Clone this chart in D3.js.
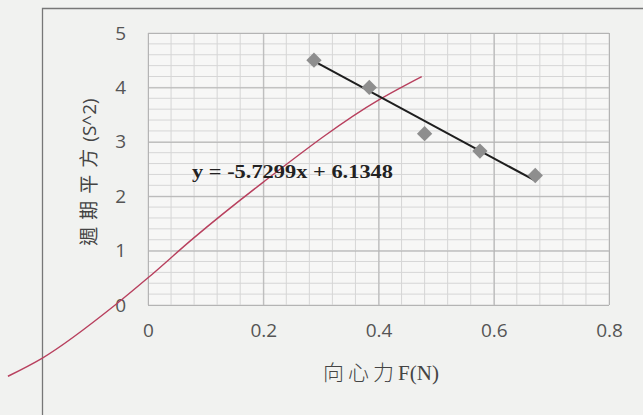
<!DOCTYPE html>
<html>
<head>
<meta charset="utf-8">
<script src="https://cdn.jsdelivr.net/npm/d3@7"></script>
<style>
  body { margin: 0; background: #f1f2f0; }
  svg { display: block; }
</style>
</head>
<body>
<div id="chart"></div>
<script>
// measured points (force F vs period squared)
var forceN = [0.288, 0.384, 0.480, 0.576, 0.672];
var periodSq = [4.50, 4.00, 3.15, 2.83, 2.38];
// linear trendline shown on the chart
var slope = -5.7299;
var intercept = 6.1348;
// red line drawn across the chart
var redX = [-0.243, -0.184, -0.057, 0, 0.078, 0.199, 0.402, 0.475];
var redY = [-1.31, -0.98, 0.0, 0.5, 1.22, 2.25, 3.78, 4.20];
var xTicks = [0, 0.2, 0.4, 0.6, 0.8];
var yTicks = [0, 1, 2, 3, 4, 5];

var width = 643, height = 415;
var svg = d3.select('#chart').append('svg').attr('width', width).attr('height', height);

// chart border (left + top)
svg.append('path')
  .attr('d', 'M42.5,' + height + 'V8.5H' + width)
  .attr('fill', 'none').attr('stroke', '#777').attr('stroke-width', 1.3);

var x = d3.scaleLinear().domain([0, 0.8]).range([148, 609]);
var y = d3.scaleLinear().domain([0, 5]).range([305, 33]);

svg.append('rect')
  .attr('x', x(0)).attr('y', y(5))
  .attr('width', x(0.8) - x(0)).attr('height', y(0) - y(5))
  .attr('fill', '#f7f7f6');

// minor grid
var grid = svg.append('g');
grid.selectAll('.vminor')
  .data(d3.range(0, 21).map(function(i) { return i * 0.04; }))
  .enter().append('line')
  .attr('x1', function(d) { return x(d); }).attr('x2', function(d) { return x(d); })
  .attr('y1', y(0)).attr('y2', y(5))
  .attr('stroke', '#d6d6d6').attr('stroke-width', 1);
grid.selectAll('.hminor')
  .data(d3.range(0, 26).map(function(i) { return i * 0.2; }))
  .enter().append('line')
  .attr('y1', function(d) { return y(d); }).attr('y2', function(d) { return y(d); })
  .attr('x1', x(0)).attr('x2', x(0.8))
  .attr('stroke', '#d6d6d6').attr('stroke-width', 1);

// major grid via axes
svg.append('g')
  .attr('transform', 'translate(0,' + y(0) + ')')
  .call(d3.axisBottom(x).tickValues(xTicks).tickSize(-(y(0) - y(5))).tickPadding(19).tickFormat(function(d) { return d === 0 ? '0' : d3.format('.1f')(d); }))
  .call(function(g) {
    g.select('.domain').remove();
    g.selectAll('line').attr('stroke', '#b4b4b4');
    g.selectAll('text').attr('font-family', 'Open Sans, sans-serif').attr('font-size', 19).attr('fill', '#555').attr('dy', '0.71em');
  });

svg.append('g')
  .attr('transform', 'translate(' + x(0) + ',0)')
  .call(d3.axisLeft(y).tickValues(yTicks).tickSize(-(x(0.8) - x(0))).tickPadding(22).tickFormat(d3.format('d')))
  .call(function(g) {
    g.select('.domain').remove();
    g.selectAll('line').attr('stroke', '#b4b4b4');
    g.selectAll('text').attr('font-family', 'Open Sans, sans-serif').attr('font-size', 19).attr('fill', '#555');
  });

// red line
var redLine = d3.line()
  .x(function(d) { return x(d[0]); })
  .y(function(d) { return y(d[1]); })
  .curve(d3.curveMonotoneX);
svg.append('path')
  .datum(redX.map(function(v, i) { return [v, redY[i]]; }))
  .attr('d', redLine)
  .attr('fill', 'none').attr('stroke', '#b8405e').attr('stroke-width', 1.4);

// trendline
var x0 = d3.min(forceN), x1 = d3.max(forceN);
svg.append('line')
  .attr('x1', x(x0)).attr('y1', y(slope * x0 + intercept))
  .attr('x2', x(x1)).attr('y2', y(slope * x1 + intercept))
  .attr('stroke', '#1e1e1e').attr('stroke-width', 2);

// diamonds
svg.selectAll('.pt')
  .data(forceN)
  .enter().append('path')
  .attr('d', d3.symbol().type(d3.symbolDiamond2).size(150))
  .attr('transform', function(d, i) { return 'translate(' + x(d) + ',' + y(periodSq[i]) + ')'; })
  .attr('fill', '#8e8e8e');

// equation
svg.append('text')
  .attr('x', 192).attr('y', 178)
  .attr('font-family', 'Liberation Serif, serif').attr('font-weight', 'bold').attr('font-size', 18)
  .attr('textLength', 201).attr('lengthAdjust', 'spacingAndGlyphs')
  .attr('fill', '#222')
  .text('y = -5.7299x + 6.1348');

// axis titles
var yt = svg.append('text')
  .attr('transform', 'translate(96,' + 172 + ') rotate(-90)')
  .attr('text-anchor', 'middle')
  .attr('font-size', 19).attr('fill', '#444');
yt.append('tspan').attr('font-family', 'Noto Sans CJK TC, sans-serif').attr('letter-spacing', 7).text('週期平方');
yt.append('tspan').attr('font-family', 'Open Sans, sans-serif').text('(S^2)');

var xt = svg.append('text')
  .attr('x', 381).attr('y', 380)
  .attr('text-anchor', 'middle')
  .attr('font-size', 21).attr('fill', '#444');
xt.append('tspan').attr('font-family', 'Noto Sans CJK TC, sans-serif').attr('font-weight', 300).attr('letter-spacing', 4).text('向心力');
xt.append('tspan').attr('font-family', 'Liberation Serif, serif').text('F(N)');
</script>
</body>
</html>
